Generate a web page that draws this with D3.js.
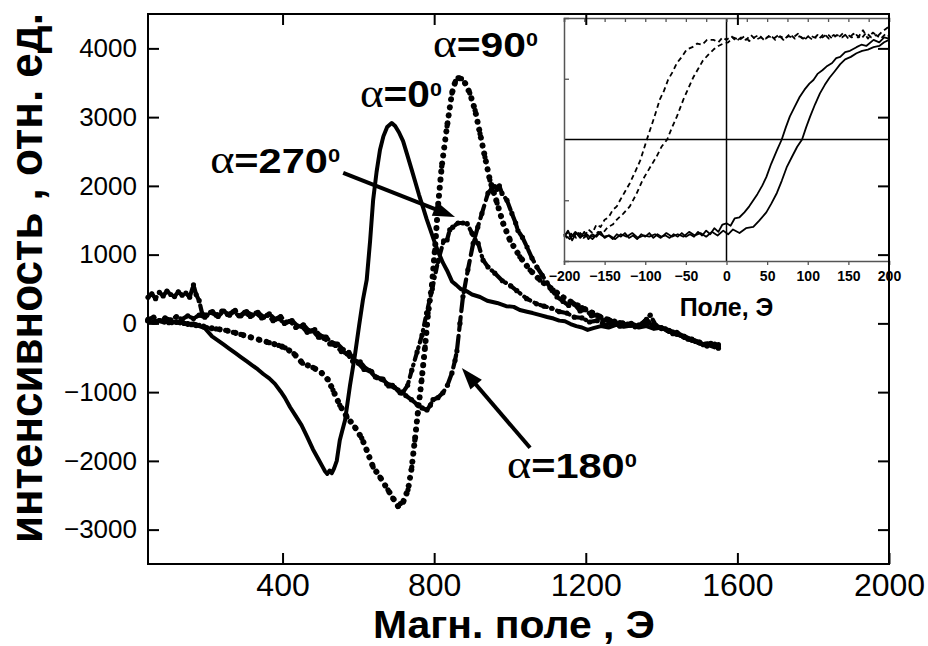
<!DOCTYPE html>
<html><head><meta charset="utf-8">
<script src="https://cdn.jsdelivr.net/npm/d3@7"></script>
<style>body{margin:0;background:#fff}svg{display:block}</style>
</head><body>
<svg id="c" width="928" height="646"></svg>
<script>
// ---------- data ----------
const xTicks = [400, 800, 1200, 1600, 2000];
const xTopTicks = [400, 800, 1200, 1600];
const yTicks = [-3000, -2000, -1000, 0, 1000, 2000, 3000, 4000];
const insetXTicks = [-200, -150, -100, -50, 0, 50, 100, 150, 200];
const insetYTicks = [-0.5, 0.5];

// alpha = 0 deg (solid)
const alpha0 = [[45,30],[60,10],[75,40],[90,15],[105,35],[120,5],[135,20],[150,-10],[165,0],[180,-40],[195,-70],[214,-190],[230,-250],[245,-310],[260,-370],[275,-430],[290,-490],[305,-550],[320,-610],[335,-670],[350,-740],[365,-800],[380,-880],[395,-990],[406,-1080],[420,-1220],[435,-1350],[450,-1480],[465,-1650],[480,-1830],[495,-1980],[505,-2080],[512,-2150],[518,-2190],[524,-2140],[530,-2180],[536,-2110],[543,-2000],[551,-1700],[558,-1550],[565,-1405],[578,-900],[591,-460],[602,-30],[612,340],[622,631],[631,1200],[639,1795],[648,2200],[657,2522],[666,2720],[676,2857],[688,2915],[697,2870],[707,2780],[718,2650],[729,2450],[741,2230],[750,2060],[760,1870],[771,1680],[780,1520],[790,1360],[800,1200],[810,1050],[823,883],[834,770],[847,610],[858,560],[870,500],[885,470],[900,420],[921,384],[940,330],[966,297],[990,250],[1010,240],[1026,195],[1045,170],[1060,150],[1080,120],[1098,93],[1115,70],[1130,40],[1145,30],[1160,-10],[1175,-40],[1190,-60],[1205,-95],[1220,-70],[1240,-40],[1260,-60],[1280,-20],[1300,-50],[1320,-30],[1340,-60],[1360,-40],[1380,-80],[1400,-60],[1420,-120],[1440,-160],[1460,-200],[1480,-250],[1500,-290],[1520,-310],[1540,-350],[1550,-330]];

// alpha = 90 deg (dotted)
const alpha90 = [[45,40],[60,20],[80,35],[100,10],[120,25],[140,0],[160,-20],[180,-30],[200,-60],[225,-80],[250,-100],[270,-130],[290,-160],[315,-200],[340,-240],[365,-280],[390,-320],[407,-355],[430,-440],[453,-580],[480,-640],[503,-720],[520,-820],[533,-970],[551,-1190],[570,-1360],[591,-1510],[609,-1670],[622,-1845],[639,-2090],[657,-2235],[678,-2420],[691,-2540],[705,-2660],[711,-2620],[718,-2600],[731,-2420],[741,-2090],[749,-1700],[757,-1300],[767,-820],[776,-340],[784,150],[794,550],[802,1070],[810,1700],[820,2285],[834,2870],[847,3350],[856,3520],[863,3570],[872,3560],[881,3500],[894,3350],[908,3100],[921,2760],[934,2420],[947,2085],[966,1750],[982,1455],[1000,1210],[1026,970],[1053,775],[1079,630],[1114,485],[1140,380],[1165,300],[1190,230],[1215,160],[1240,90],[1265,40],[1290,10],[1315,-20],[1340,-30],[1365,10],[1390,-50],[1415,-100],[1440,-150],[1465,-210],[1490,-260],[1515,-300],[1540,-320],[1550,-310]];

// alpha = 180 deg (dashed)
const alpha180 = [[45,380],[55,430],[65,360],[75,450],[85,400],[95,470],[105,420],[115,390],[125,460],[135,410],[145,440],[155,380],[165,560],[172,420],[180,330],[188,140],[200,120],[215,170],[230,100],[245,180],[260,120],[275,190],[290,110],[305,170],[320,120],[335,160],[350,90],[365,140],[380,60],[395,100],[410,20],[425,40],[440,-40],[455,-20],[470,-110],[485,-90],[500,-180],[515,-200],[530,-280],[545,-300],[560,-380],[575,-420],[590,-540],[605,-560],[620,-660],[635,-700],[650,-790],[665,-810],[680,-910],[695,-930],[710,-1010],[725,-1050],[740,-1110],[755,-1180],[768,-1230],[781,-1260],[790,-1190],[797,-1110],[810,-1080],[823,-1010],[835,-900],[847,-720],[855,-540],[860,-400],[868,0],[876,390],[889,780],[903,1165],[915,1400],[926,1600],[942,1895],[952,1960],[960,1990],[966,1950],[972,2000],[979,1890],[992,1790],[1005,1600],[1015,1460],[1021,1350],[1033,1250],[1045,1110],[1058,950],[1071,820],[1085,700],[1098,590],[1111,480],[1124,385],[1140,320],[1155,260],[1170,280],[1185,180],[1200,200],[1215,110],[1230,120],[1245,40],[1260,60],[1280,0],[1300,-20],[1320,0],[1340,-40],[1360,60],[1375,-20],[1390,-60],[1410,-80],[1430,-150],[1450,-170],[1470,-230],[1490,-260],[1510,-310],[1530,-290],[1550,-360]];

// alpha = 270 deg (dash-dot)
const alpha270 = [[45,60],[60,90],[75,40],[90,80],[105,50],[120,100],[135,60],[150,110],[165,70],[180,120],[195,90],[210,160],[225,120],[240,180],[255,130],[270,170],[285,110],[300,160],[315,100],[330,150],[345,80],[360,120],[375,40],[390,70],[405,0],[420,30],[435,-60],[450,-40],[465,-130],[480,-110],[495,-200],[510,-220],[525,-300],[540,-320],[555,-410],[570,-440],[585,-550],[600,-580],[615,-670],[630,-690],[645,-780],[660,-810],[675,-880],[690,-900],[705,-970],[718,-1000],[730,-900],[741,-680],[755,-415],[768,-170],[780,150],[795,500],[810,900],[825,1200],[834,1213],[841,1360],[849,1400],[863,1460],[876,1460],[887,1450],[900,1310],[908,1210],[916,1165],[929,920],[942,820],[960,730],[980,620],[1002,545],[1018,475],[1044,360],[1070,285],[1090,250],[1110,220],[1130,170],[1150,150],[1170,90],[1190,80],[1210,20],[1230,40],[1250,-20],[1270,10],[1290,-40],[1310,-10],[1330,-50],[1350,0],[1370,120],[1385,-30],[1400,-70],[1420,-110],[1440,-130],[1460,-190],[1480,-230],[1500,-280],[1520,-330],[1540,-300],[1550,-340]];

// inset hysteresis loops (field, normalized signal)
const insetDashA = [[-200,-0.78],[-195,-0.82],[-190,-0.76],[-185,-0.81],[-180,-0.77],[-175,-0.8],[-170,-0.74],[-165,-0.77],[-160,-0.7],[-155,-0.72],[-150,-0.66],[-145,-0.64],[-140,-0.58],[-135,-0.55],[-131,-0.5],[-125,-0.43],[-119,-0.36],[-112,-0.26],[-106,-0.17],[-98,0],[-90,0.16],[-82,0.33],[-77,0.4],[-72,0.49],[-66,0.56],[-61,0.63],[-55,0.68],[-49,0.74],[-42,0.76],[-36,0.79],[-30,0.78],[-24,0.82],[-16,0.82],[-10,0.8],[-5,0.84],[0,0.82],[6,0.85],[12,0.81],[18,0.84],[24,0.82],[30,0.86],[36,0.82],[42,0.84],[48,0.83],[54,0.86],[60,0.82],[66,0.85],[72,0.83],[78,0.87],[84,0.83],[90,0.85],[96,0.82],[102,0.86],[108,0.84],[114,0.83],[120,0.87],[126,0.83],[132,0.86],[138,0.84],[144,0.88],[150,0.83],[156,0.87],[162,0.84],[168,0.9],[174,0.83],[180,0.88],[186,0.85],[192,0.89],[200,0.93]];
const insetDashB = [[-200,-0.79],[-194,-0.76],[-188,-0.8],[-182,-0.77],[-176,-0.81],[-170,-0.78],[-164,-0.8],[-158,-0.76],[-152,-0.77],[-146,-0.72],[-140,-0.7],[-135,-0.66],[-127,-0.61],[-119,-0.55],[-111,-0.45],[-103,-0.33],[-95,-0.24],[-86,-0.14],[-80,-0.06],[-73,0],[-67,0.1],[-61,0.19],[-57,0.26],[-53,0.33],[-47,0.42],[-41,0.51],[-35,0.58],[-29,0.65],[-22,0.7],[-16,0.74],[-10,0.77],[-4,0.79],[2,0.8],[8,0.84],[16,0.82],[22,0.85],[28,0.81],[34,0.84],[40,0.86],[46,0.82],[52,0.85],[58,0.83],[64,0.86],[70,0.82],[76,0.85],[82,0.84],[88,0.87],[94,0.83],[100,0.85],[106,0.82],[112,0.86],[118,0.84],[124,0.87],[130,0.83],[136,0.86],[142,0.84],[148,0.87],[154,0.84],[160,0.86],[166,0.83],[172,0.88],[178,0.84],[184,0.86],[190,0.83],[196,0.87],[200,0.85]];
const insetSolidC = [[-200,-0.8],[-195,-0.75],[-190,-0.83],[-185,-0.77],[-180,-0.81],[-175,-0.76],[-170,-0.82],[-165,-0.78],[-160,-0.8],[-155,-0.76],[-150,-0.81],[-145,-0.79],[-140,-0.82],[-135,-0.78],[-130,-0.8],[-125,-0.77],[-120,-0.81],[-115,-0.79],[-110,-0.82],[-105,-0.78],[-100,-0.8],[-95,-0.77],[-90,-0.81],[-85,-0.78],[-80,-0.8],[-75,-0.79],[-70,-0.81],[-65,-0.78],[-60,-0.8],[-55,-0.77],[-50,-0.8],[-45,-0.78],[-40,-0.8],[-35,-0.76],[-30,-0.79],[-25,-0.75],[-20,-0.78],[-15,-0.73],[-10,-0.76],[-5,-0.7],[0,-0.69],[5,-0.71],[10,-0.65],[16,-0.64],[22,-0.6],[28,-0.55],[33,-0.5],[38,-0.45],[44,-0.38],[49,-0.31],[55,-0.2],[62,-0.09],[68,0],[73,0.1],[78,0.19],[84,0.27],[90,0.35],[96,0.41],[102,0.46],[107,0.49],[112,0.54],[118,0.57],[123,0.6],[130,0.63],[135,0.67],[140,0.68],[146,0.72],[152,0.73],[160,0.76],[166,0.78],[172,0.77],[181,0.82],[188,0.8],[194,0.84],[200,0.83]];
const insetSolidD = [[-200,-0.78],[-193,-0.82],[-186,-0.76],[-179,-0.8],[-172,-0.78],[-165,-0.82],[-158,-0.77],[-151,-0.8],[-144,-0.79],[-137,-0.82],[-130,-0.78],[-123,-0.8],[-116,-0.77],[-109,-0.81],[-102,-0.79],[-95,-0.8],[-88,-0.78],[-81,-0.81],[-74,-0.77],[-67,-0.8],[-60,-0.78],[-53,-0.8],[-46,-0.76],[-39,-0.79],[-32,-0.77],[-25,-0.8],[-18,-0.76],[-11,-0.79],[-4,-0.75],[2,-0.78],[8,-0.74],[16,-0.77],[24,-0.73],[33,-0.72],[40,-0.67],[49,-0.6],[55,-0.53],[62,-0.44],[68,-0.34],[74,-0.23],[80,-0.15],[87,-0.06],[93,0],[98,0.1],[103,0.19],[109,0.29],[115,0.38],[121,0.45],[127,0.51],[133,0.56],[140,0.62],[146,0.66],[153,0.68],[160,0.71],[167,0.73],[174,0.74],[181,0.76],[188,0.77],[194,0.8],[200,0.82]];

// annotations (data units): label left/baseline, stretched width in px
const labels = [
  {deg:"0",   x:604, y:3148,  w:82},
  {deg:"90",  x:797, y:3875,  w:105},
  {deg:"270", x:209, y:2188,  w:130},
  {deg:"180", x:992, y:-2249, w:130}
];
const arrows = [
  {from:[560, 2188], to:[855, 1548]},
  {from:[1053,-1810], to:[873,-649]}
];

// ---------- drawing ----------
const svg = d3.select("#c");
const sans = "'Liberation Sans', Arial, Helvetica, sans-serif";
const L = 148, R = 889, T = 14, B = 564;
const x = d3.scaleLinear([45, 2000], [L, R]);
const y = d3.scaleLinear([-3500, 4500], [B, T]);

const line = d3.line().x(d => x(d[0])).y(d => y(d[1]));
const plot = svg.append("g");

function drawSeries(data, dash, width, dots) {
  plot.append("path").datum(data)
    .attr("d", line).attr("fill", "none").attr("stroke", "#000")
    .attr("stroke-width", width).attr("stroke-linejoin", "round")
    .attr("stroke-linecap", "round")
    .attr("stroke-dasharray", dash);
  if (dots) {
    plot.append("g").selectAll("circle").data(data).join("circle")
      .attr("cx", d => x(d[0])).attr("cy", d => y(d[1])).attr("r", dots).attr("fill", "#000");
  }
}
drawSeries(alpha0, null, 4, 0);
drawSeries(alpha90, "0.1 8", 6, 2.6);
drawSeries(alpha180, "13 6", 4.2, 2.6);
drawSeries(alpha270, "7 5 1 5", 4.2, 2.6);

// arrows
arrows.forEach(a => {
  const x1 = x(a.from[0]), y1 = y(a.from[1]), x2 = x(a.to[0]), y2 = y(a.to[1]);
  const ang = Math.atan2(y2 - y1, x2 - x1);
  const hl = 22, hw = 7.5;
  const bx = x2 - hl * Math.cos(ang), by = y2 - hl * Math.sin(ang);
  plot.append("line").attr("x1", x1).attr("y1", y1).attr("x2", bx + 2*Math.cos(ang)).attr("y2", by + 2*Math.sin(ang))
    .attr("stroke", "#000").attr("stroke-width", 4);
  const px = -Math.sin(ang), py = Math.cos(ang);
  plot.append("path").attr("d",
    `M${x2},${y2}L${bx + hw*px},${by + hw*py}L${bx - hw*px},${by - hw*py}Z`).attr("fill", "#000");
});

// labels
labels.forEach(l => {
  const t = plot.append("text").attr("fill", "#000");
  t.append("tspan").attr("font-family", "'Liberation Serif','DejaVu Serif',serif").attr("font-size", 40).text("α");
  t.append("tspan").attr("font-family", sans).attr("font-weight", "bold").attr("font-size", 36).text("=" + l.deg);
  t.append("tspan").attr("font-family", sans).attr("font-weight", "bold").attr("font-size", 19).attr("dy", -11).text("0");
  const bb = t.node().getBBox();
  t.attr("transform", `translate(${x(l.x)},${y(l.y)}) scale(${l.w / bb.width},1)`);
});

// ---------- inset ----------
const ix = d3.scaleLinear([-200, 200], [564, 889]);
const iy = d3.scaleLinear([-1, 1], [261, 18]);
const inset = svg.append("g");
inset.append("rect").attr("x", 564).attr("y", 18).attr("width", 889 - 564).attr("height", 261 - 18).attr("fill", "#fff");
const iline = d3.line().x(d => ix(d[0])).y(d => iy(d[1]));
[[insetDashA, "5 3.5"], [insetDashB, "5 3.5"], [insetSolidC, null], [insetSolidD, null]].forEach(([d, dash]) => {
  inset.append("path").datum(d).attr("d", iline).attr("fill", "none").attr("stroke", "#000")
    .attr("stroke-width", 1.8).attr("stroke-dasharray", dash).attr("stroke-linejoin", "round");
});
inset.append("line").attr("x1", ix(0)).attr("x2", ix(0)).attr("y1", 18).attr("y2", 261).attr("stroke", "#000").attr("stroke-width", 1.5);
inset.append("line").attr("x1", 564).attr("x2", 889).attr("y1", iy(0)).attr("y2", iy(0)).attr("stroke", "#000").attr("stroke-width", 1.5);

const ib = inset.append("g").attr("transform", "translate(0,261)")
  .call(d3.axisBottom(ix).tickValues(insetXTicks).tickSize(4).tickPadding(6).tickFormat(d3.format("d")));
ib.selectAll("text").attr("font-family", sans).attr("font-weight", "bold").attr("font-size", 14).attr("fill", "#000");
const it = inset.append("g").attr("transform", "translate(0,18)")
  .call(d3.axisTop(ix).tickValues(d3.range(-200, 201, 25)).tickSize(-4).tickFormat(""));
const il = inset.append("g").attr("transform", "translate(564,0)")
  .call(d3.axisLeft(iy).tickValues(insetYTicks).tickSize(-5).tickFormat(""));
[ib, it, il].forEach(g => {
  g.select(".domain").attr("stroke", "#555").attr("stroke-width", 1.5);
  g.selectAll(".tick line").attr("stroke", "#555").attr("stroke-width", 1.3);
});
inset.append("text").attr("x", ix(0)).attr("y", 316).attr("text-anchor", "middle")
  .attr("font-family", sans).attr("font-weight", "bold").attr("font-size", 25).text("Поле, Э");

// ---------- main axes ----------
function styleAxis(g) {
  g.select(".domain").remove();
  g.selectAll(".tick line").attr("stroke", "#000").attr("stroke-width", 2);
}
const ax = svg.append("g");
const gl = ax.append("g").attr("transform", `translate(${L},0)`)
  .call(d3.axisLeft(y).tickValues(yTicks).tickSize(-11).tickPadding(11).tickFormat(d3.format("d")));
gl.selectAll("text").attr("font-family", sans).attr("font-size", 26).attr("fill", "#000");
styleAxis(gl);
const gr = ax.append("g").attr("transform", `translate(${R},0)`)
  .call(d3.axisRight(y).tickValues(yTicks).tickSize(-11).tickFormat(""));
styleAxis(gr);
const gb = ax.append("g").attr("transform", `translate(0,${B})`)
  .call(d3.axisBottom(x).tickValues(xTicks).tickSize(-11).tickPadding(9.5).tickFormat(d3.format("d")));
gb.selectAll("text").attr("font-family", sans).attr("font-size", 32).attr("fill", "#000");
styleAxis(gb);
const gt = ax.append("g").attr("transform", `translate(0,${T})`)
  .call(d3.axisTop(x).tickValues(xTopTicks).tickSize(-11).tickFormat(""));
styleAxis(gt);
ax.append("rect").attr("x", L).attr("y", T).attr("width", R - L).attr("height", B - T)
  .attr("fill", "none").attr("stroke", "#000").attr("stroke-width", 2);

// axis titles
const xt = svg.append("text").attr("font-family", sans).attr("font-weight", "bold")
  .attr("font-size", 38).text("Магн. поле , Э");
const xw = xt.node().getBBox().width;
xt.attr("transform", `translate(373,637.5) scale(${282 / xw},1)`);
const yt = svg.append("text").attr("font-family", sans).attr("font-weight", "bold")
  .attr("font-size", 46).text("интенсивность , отн. ед.");
const yw = yt.node().getBBox().width;
yt.attr("transform", `translate(42,543) rotate(-90) scale(${530 / yw},1)`);
</script>
</body></html>
